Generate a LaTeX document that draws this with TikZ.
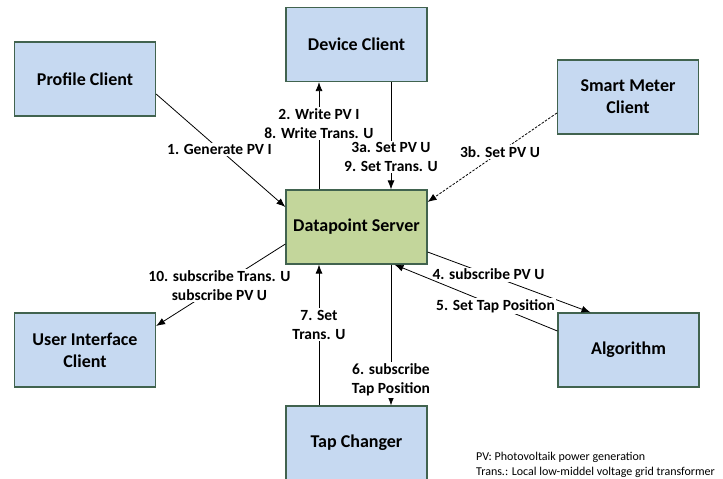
\documentclass[tikz,border=0pt]{standalone}
\usepackage{fontspec}
\setmainfont{Carlito}
\usetikzlibrary{calc,arrows.meta}
\definecolor{boxblue}{HTML}{C6D9F1}
\definecolor{boxgreen}{HTML}{C3D69B}
\definecolor{boxline}{HTML}{41634F}
\begin{document}
\begin{tikzpicture}[x=1pt,y=-1pt,
  box/.style={draw=boxline,line width=1.2pt,fill=boxblue,minimum width=141pt,minimum height=74pt,inner sep=0pt,align=center,font=\fontsize{18}{21.7}\selectfont\bfseries},
  lbl/.style={fill=white,inner sep=1.5pt,align=center,font=\fontsize{15.5}{19}\selectfont\bfseries},
  conn/.style={draw=black,line width=0.8pt,-{Latex[length=9pt,width=7pt]}},
  dconn/.style={conn,dash pattern=on 2.5pt off 1.5pt},
  legend/.style={inner sep=0pt,align=left,anchor=north west,font=\fontsize{12}{14.5}\selectfont}]
\useasboundingbox (0,0) rectangle (723,479);
\clip (0,0) rectangle (723,479);
\node[box] (pc) at (85,79) {Profile Client};
\node[box] (dc) at (356.5,44.5) {Device Client};
\node[box] (sm) at (628,97) {Smart Meter\\Client};
\node[box,fill=boxgreen] (ds) at (356.5,227) {Datapoint Server};
\node[box] (ui) at (85,350) {User Interface\\Client};
\node[box] (tc) at (356.5,443) {Tap Changer};
\node[box] (al) at (628.5,350) {Algorithm};
% connectors
\draw[conn] ($(pc.east)+(0,15)$) -- node[lbl,pos=0.49] {1. Generate PV I} ($(ds.west)+(0,-20)$);
\draw[conn] ($(ds.north)+(-37.5,0)$) -- node[lbl,pos=0.61] {2. Write PV I\\8. Write Trans. U} ($(dc.south)+(-37.5,0)$);
\draw[conn] ($(dc.south)+(34.5,0)$) -- node[lbl,pos=0.70] {3a. Set PV U\\9. Set Trans. U} ($(ds.north)+(34.5,0)$);
\draw[dconn] ($(sm.west)+(0,16)$) -- node[lbl,pos=0.44] {3b. Set PV U} ($(ds.east)+(0,-25)$);
\draw[conn] ($(ds.east)+(0,25)$) -- node[lbl,pos=0.374] {4. subscribe PV U} ($(al.north)+(-38,0)$);
\draw[conn] ($(al.west)+(0,-19)$) -- node[lbl,pos=0.38] {5. Set Tap Position} ($(ds.south)+(38,0)$);
\draw[conn] ($(ds.south)+(34.5,0)$) -- node[lbl,pos=0.82] {6. subscribe\\Tap Position} ($(tc.north)+(34.5,0)$);
\draw[conn] ($(tc.north)+(-37.5,0)$) -- node[lbl,pos=0.574] {7. Set\\Trans. U} ($(ds.south)+(-37.5,0)$);
\draw[conn] ($(ds.west)+(0,17)$) -- node[lbl,pos=0.51] {10. subscribe Trans. U\\subscribe PV U} ($(ui.east)+(0,-24)$);
% legend
\node[legend] (lg) at (476,452) {PV: Photovoltaik power generation\\Trans.: Local low-middel voltage grid transformer};
\end{tikzpicture}
\end{document}
